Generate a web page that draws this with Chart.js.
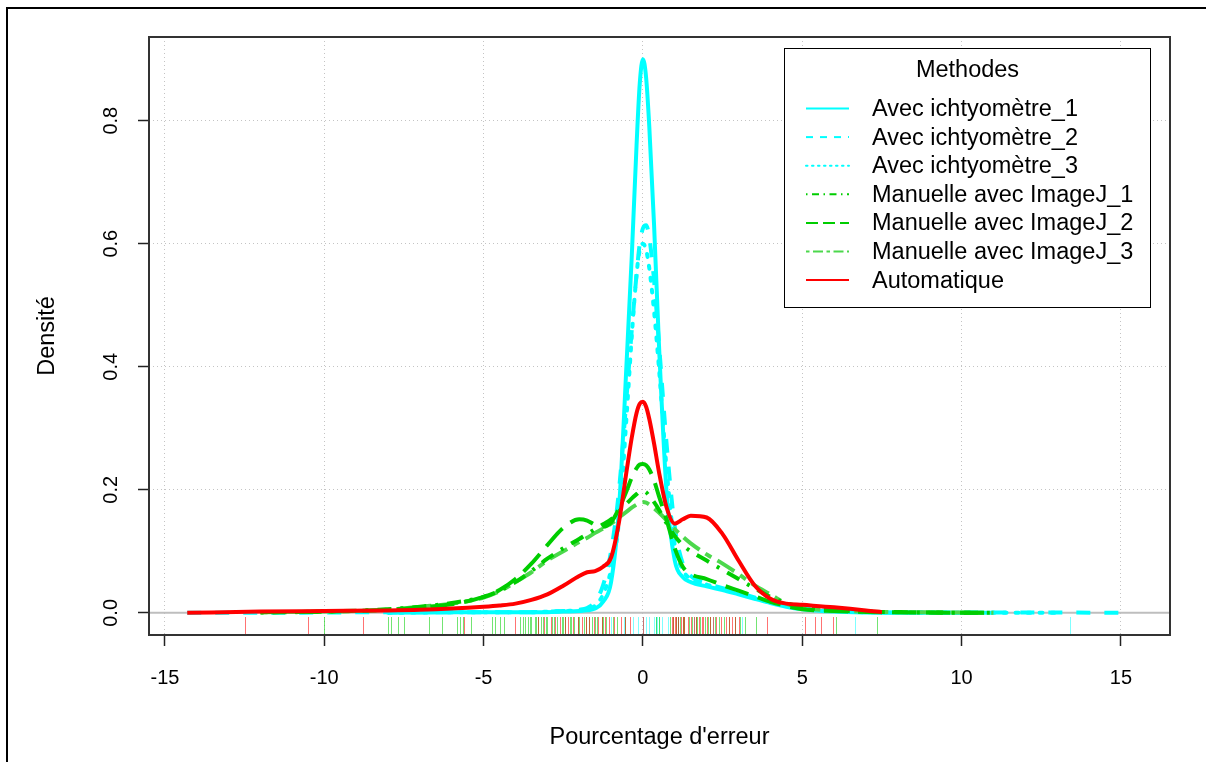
<!DOCTYPE html>
<html>
<head>
<meta charset="utf-8">
<script src="https://cdn.jsdelivr.net/npm/chart.js@4.4.1/dist/chart.umd.min.js"></script>
<style>
html, body { margin: 0; padding: 0; background: #fff; overflow: hidden; }
#wrap { position: relative; width: 1206px; height: 762px; }
#grafico { position: absolute; left: 0; top: 0; }
#cadre { position: absolute; left: 6px; top: 7px; width: 1300px; height: 900px; border: 2px solid #000; pointer-events: none; }
</style>
</head>
<body>
<div id="wrap">
  <canvas id="grafico" width="1206" height="762"></canvas>
  <div id="cadre"></div>
</div>
<script>
// Grille des abscisses (pourcentage d'erreur)
const xs = [-14.3, -12, -10, -8, -7, -6, -5, -4.5, -4, -3.5, -3, -2.5, -2, -1.75, -1.5, -1.25, -1, -0.75, -0.5, -0.35, -0.2, -0.1,
  0, 0.1, 0.2, 0.35, 0.5, 0.75, 1, 1.25, 1.5, 2, 2.5, 3, 3.5, 4, 4.5, 5, 6, 7, 7.5, 9, 11, 13, 15.35];

// Densités (null = hors de la courbe)
const ichtyo1 = [null, null, null, 0, 0.0005, 0.001, 0.001, 0.001, 0.001, 0.001, 0.001, 0.002, 0.003, 0.004, 0.007, 0.018, 0.05, 0.17, 0.42, 0.58, 0.76, 0.86,
  0.9, 0.87, 0.79, 0.63, 0.44, 0.19, 0.085, 0.058, 0.05, 0.043, 0.037, 0.03, 0.023, 0.016, 0.01, 0.006, 0.002, 0.0005, 0.0003, 0, 0, null, null];
const ichtyo2 = [0, 0, 0.0005, 0.001, 0.001, 0.001, 0.001, 0.001, 0.001, 0.001, 0.002, 0.003, 0.005, 0.008, 0.018, 0.045, 0.1, 0.2, 0.36, 0.46, 0.55, 0.6,
  0.625, 0.63, 0.61, 0.54, 0.44, 0.27, 0.14, 0.08, 0.06, 0.048, 0.04, 0.033, 0.025, 0.018, 0.012, 0.008, 0.003, 0.0015, 0.001, 0.0005, 0.0005, 0.0005, 0];
const ichtyo3 = [null, null, null, 0, 0.0005, 0.001, 0.001, 0.001, 0.001, 0.001, 0.002, 0.003, 0.004, 0.006, 0.012, 0.03, 0.07, 0.15, 0.33, 0.45, 0.55, 0.59,
  0.6, 0.59, 0.56, 0.49, 0.4, 0.23, 0.11, 0.07, 0.055, 0.046, 0.039, 0.032, 0.024, 0.017, 0.011, 0.007, 0.003, 0.001, 0.0008, 0.0004, 0.0002, 0, null];
const imagej1 = [null, 0.0005, 0.002, 0.006, 0.01, 0.016, 0.026, 0.036, 0.05, 0.068, 0.088, 0.105, 0.12, 0.128, 0.136, 0.144, 0.152, 0.165, 0.178, 0.186, 0.193, 0.197,
  0.198, 0.196, 0.19, 0.18, 0.168, 0.145, 0.125, 0.11, 0.1, 0.085, 0.07, 0.055, 0.04, 0.026, 0.016, 0.009, 0.004, 0.002, 0.0015, 0.0005, 0, null, null];
const imagej2 = [null, 0.001, 0.002, 0.005, 0.009, 0.014, 0.026, 0.037, 0.055, 0.08, 0.11, 0.138, 0.152, 0.15, 0.143, 0.14, 0.147, 0.17, 0.2, 0.22, 0.235, 0.241,
  0.242, 0.24, 0.233, 0.215, 0.19, 0.15, 0.105, 0.075, 0.063, 0.055, 0.045, 0.036, 0.027, 0.018, 0.011, 0.006, 0.003, 0.0015, 0.001, 0.0005, 0, null, null];
const imagej3 = [null, 0.001, 0.002, 0.005, 0.01, 0.015, 0.025, 0.035, 0.05, 0.066, 0.085, 0.1, 0.115, 0.122, 0.13, 0.137, 0.145, 0.155, 0.165, 0.171, 0.176, 0.179,
  0.18, 0.179, 0.176, 0.17, 0.163, 0.15, 0.136, 0.124, 0.113, 0.095, 0.08, 0.063, 0.045, 0.03, 0.015, 0.008, 0.004, 0.002, 0.0015, 0.001, 0, null, null];
const automatique = [0, 0.002, 0.003, 0.004, 0.005, 0.007, 0.01, 0.012, 0.015, 0.021, 0.03, 0.044, 0.06, 0.066, 0.068, 0.075, 0.09, 0.148, 0.235, 0.285, 0.325, 0.34,
  0.343, 0.335, 0.315, 0.275, 0.23, 0.17, 0.145, 0.152, 0.158, 0.155, 0.128, 0.085, 0.045, 0.023, 0.015, 0.013, 0.009, 0.004, 0.001, null, null, null, null];

// Observations (rug) par méthode
const rugAvec = [-1.0, -0.6, -0.3, -0.15, 0.0, 0.1, 0.2, 0.35, 0.42, 0.45, 0.5, 0.6, 0.8, 1.1, 1.6, 2.2, 3.1, 6.65, 13.4];
const rugManuelle = [-10.0, -8.0, -7.9, -7.7, -7.5, -6.7, -6.3, -5.85, -5.75, -5.65, -5.4, -4.75, -4.65, -4.5, -4.35, -3.85, -3.75, -3.7, -3.6, -3.55,
  -3.5, -3.4, -3.35, -3.3, -3.2, -3.15, -3.05, -3.0, -2.85, -2.8, -2.7, -2.55, -2.5, -2.45, -2.3, -2.25, -2.15, -2.05, -2.0, -1.85, -1.8, -1.7,
  -1.6, -1.5, -1.45, -1.3, -1.25, -1.15, -0.95, -0.8, -0.55, 0.4, 0.5, 0.85, 0.95, 1.05, 1.1, 1.15, 1.25, 1.3, 1.45, 1.55, 1.65, 1.7, 1.8,
  1.95, 2.05, 2.1, 2.25, 2.4, 2.55, 2.7, 2.9, 3.05, 3.2, 3.55, 6.05, 7.35];
const rugAuto = [-12.5, -10.5, -8.8, -5.6, -4.0, -3.3, -3.1, -2.9, -2.75, -2.6, -2.45, -2.35, -2.2, -2.05, -1.9, -1.8, -1.7, -1.55, -1.4, -1.3, -1.2,
  -1.05, -0.9, -0.7, -0.55, -0.4, 0.0, 0.9, 0.95, 1.0, 1.05, 1.1, 1.2, 1.25, 1.3, 1.4, 1.5, 1.6, 1.65, 1.75, 1.85, 1.9, 2.0, 2.1, 2.2, 2.3,
  2.45, 2.6, 2.7, 2.8, 2.9, 3.0, 3.9, 5.1, 5.4, 5.6, 5.95];

// Axes
const xTicks = [-15, -10, -5, 0, 5, 10, 15];
const xTickLabels = ["-15", "-10", "-5", "0", "5", "10", "15"];
const yTicks = [0, 0.2, 0.4, 0.6, 0.8];
const yTickLabels = ["0.0", "0.2", "0.4", "0.6", "0.8"];
const noms = ["Avec ichtyomètre_1", "Avec ichtyomètre_2", "Avec ichtyomètre_3",
  "Manuelle avec ImageJ_1", "Manuelle avec ImageJ_2", "Manuelle avec ImageJ_3", "Automatique"];

const police = "'Liberation Sans', Arial, sans-serif";
const cyan = "#00FFFF";
const vert = "#00CD00";
const vertClair = "#4CD84C";
const rouge = "#FF0000";

function points(valeurs) {
  return xs.map((x, i) => ({ x: x, y: valeurs[i] })).filter((p) => p.y !== null);
}

function courbe(nom, valeurs, couleur, tirets, ordre, cap) {
  return {
    label: nom,
    data: points(valeurs),
    borderColor: couleur,
    backgroundColor: couleur,
    borderWidth: 4,
    borderDash: tirets,
    borderCapStyle: cap || "butt",
    pointRadius: 0,
    fill: false,
    tension: 0.4,
    cubicInterpolationMode: "monotone",
    order: ordre,
  };
}

const datasets = [
  courbe(noms[0], ichtyo1, cyan, [], 2),
  courbe(noms[1], ichtyo2, cyan, [14, 14], 2),
  courbe(noms[2], ichtyo3, cyan, [3, 9], 2, "round"),
  courbe(noms[3], imagej1, vert, [3, 9, 14, 9], 1),
  courbe(noms[4], imagej2, vert, [24, 10], 1),
  courbe(noms[5], imagej3, vertClair, [7, 7, 20, 7], 1),
  courbe(noms[6], automatique, rouge, [], 0),
];

// Ligne zéro, rug, cadre, étiquettes Y et légende
const decor = {
  id: "decor",
  beforeDatasetsDraw(chart) {
    const { ctx, chartArea, scales } = chart;
    const y0 = scales.y.getPixelForValue(0);
    ctx.save();
    ctx.strokeStyle = "#BEBEBE";
    ctx.lineWidth = 2;
    ctx.beginPath();
    ctx.moveTo(chartArea.left, y0);
    ctx.lineTo(chartArea.right, y0);
    ctx.stroke();
    ctx.restore();
  },
  afterDatasetsDraw(chart) {
    const { ctx, chartArea, scales } = chart;
    const groupes = [
      [rugAvec, "rgba(0,255,255,0.5)"],
      [rugManuelle, "rgba(0,205,0,0.55)"],
      [rugAuto, "rgba(255,0,0,0.55)"],
    ];
    ctx.save();
    ctx.lineWidth = 1;
    groupes.forEach(([valeurs, couleur]) => {
      ctx.strokeStyle = couleur;
      valeurs.forEach((v) => {
        const px = Math.round(scales.x.getPixelForValue(v)) + 0.5;
        ctx.beginPath();
        ctx.moveTo(px, chartArea.bottom);
        ctx.lineTo(px, chartArea.bottom - 18);
        ctx.stroke();
      });
    });
    ctx.strokeStyle = "#333";
    ctx.lineWidth = 2;
    ctx.strokeRect(chartArea.left, chartArea.top, chartArea.right - chartArea.left, chartArea.bottom - chartArea.top);
    ctx.restore();
  },
  afterDraw(chart) {
    const { ctx, scales } = chart;
    ctx.save();
    ctx.fillStyle = "#000";
    ctx.font = "20px " + police;
    ctx.textAlign = "center";
    ctx.textBaseline = "middle";
    yTicks.forEach((v, i) => {
      ctx.save();
      ctx.translate(111, scales.y.getPixelForValue(v));
      ctx.rotate(-Math.PI / 2);
      ctx.fillText(yTickLabels[i], 0, 0);
      ctx.restore();
    });

    // Légende
    const bx = 784.5, by = 48.5, bw = 366, bh = 259;
    ctx.fillStyle = "#fff";
    ctx.fillRect(bx, by, bw, bh);
    ctx.strokeStyle = "#000";
    ctx.lineWidth = 1;
    ctx.strokeRect(bx, by, bw, bh);
    ctx.fillStyle = "#000";
    ctx.font = "23.5px " + police;
    ctx.textAlign = "center";
    ctx.fillText("Methodes", bx + bw / 2, 71);
    ctx.textAlign = "left";
    chart.data.datasets.forEach((ds, i) => {
      const yy = 108.5 + i * 28.6;
      ctx.save();
      ctx.strokeStyle = ds.borderColor;
      ctx.lineWidth = 2;
      ctx.lineCap = ds.borderCapStyle;
      ctx.setLineDash(ds.borderDash.map((d) => d / 2));
      ctx.beginPath();
      ctx.moveTo(806, yy);
      ctx.lineTo(849, yy);
      ctx.stroke();
      ctx.restore();
      ctx.fillText(ds.label, 872, yy + 1);
    });
    ctx.restore();
  },
};

const config = {
  type: "line",
  data: { datasets: datasets },
  options: {
    responsive: false,
    animation: false,
    layout: { padding: { left: 0, top: 37, right: 36, bottom: 0 } },
    plugins: { legend: { display: false }, tooltip: { enabled: false } },
    scales: {
      x: {
        type: "linear",
        min: -15.5,
        max: 16.54,
        afterBuildTicks: (s) => { s.ticks = xTicks.map((v) => ({ value: v })); },
        afterFit: (s) => { s.height = 127; },
        grid: { color: "#C4C4C4", lineWidth: 1, tickLength: 11, tickColor: "#222", tickWidth: 1.5 },
        border: { display: false, dash: [1, 3] },
        ticks: {
          color: "#000",
          font: { family: police, size: 20 },
          padding: 20,
          maxRotation: 0,
          callback: (v, i) => xTickLabels[i],
        },
        title: {
          display: true,
          text: "Pourcentage d'erreur",
          color: "#000",
          font: { family: police, size: 23.5 },
          padding: { top: 0, bottom: 10 },
        },
      },
      y: {
        type: "linear",
        min: -0.036,
        max: 0.936,
        afterBuildTicks: (s) => { s.ticks = yTicks.map((v) => ({ value: v })); },
        afterFit: (s) => { s.width = 149; },
        grid: { color: "#C4C4C4", lineWidth: 1, tickLength: 11, tickColor: "#222", tickWidth: 1.5 },
        border: { display: false, dash: [1, 3] },
        ticks: { display: false },
        title: {
          display: true,
          text: "Densité",
          color: "#000",
          font: { family: police, size: 23.5 },
          padding: { top: 33, bottom: 0 },
        },
      },
    },
  },
  plugins: [decor],
};

const grafico = document.getElementById("grafico").getContext("2d");
new Chart(grafico, config);
</script>
</body>
</html>
